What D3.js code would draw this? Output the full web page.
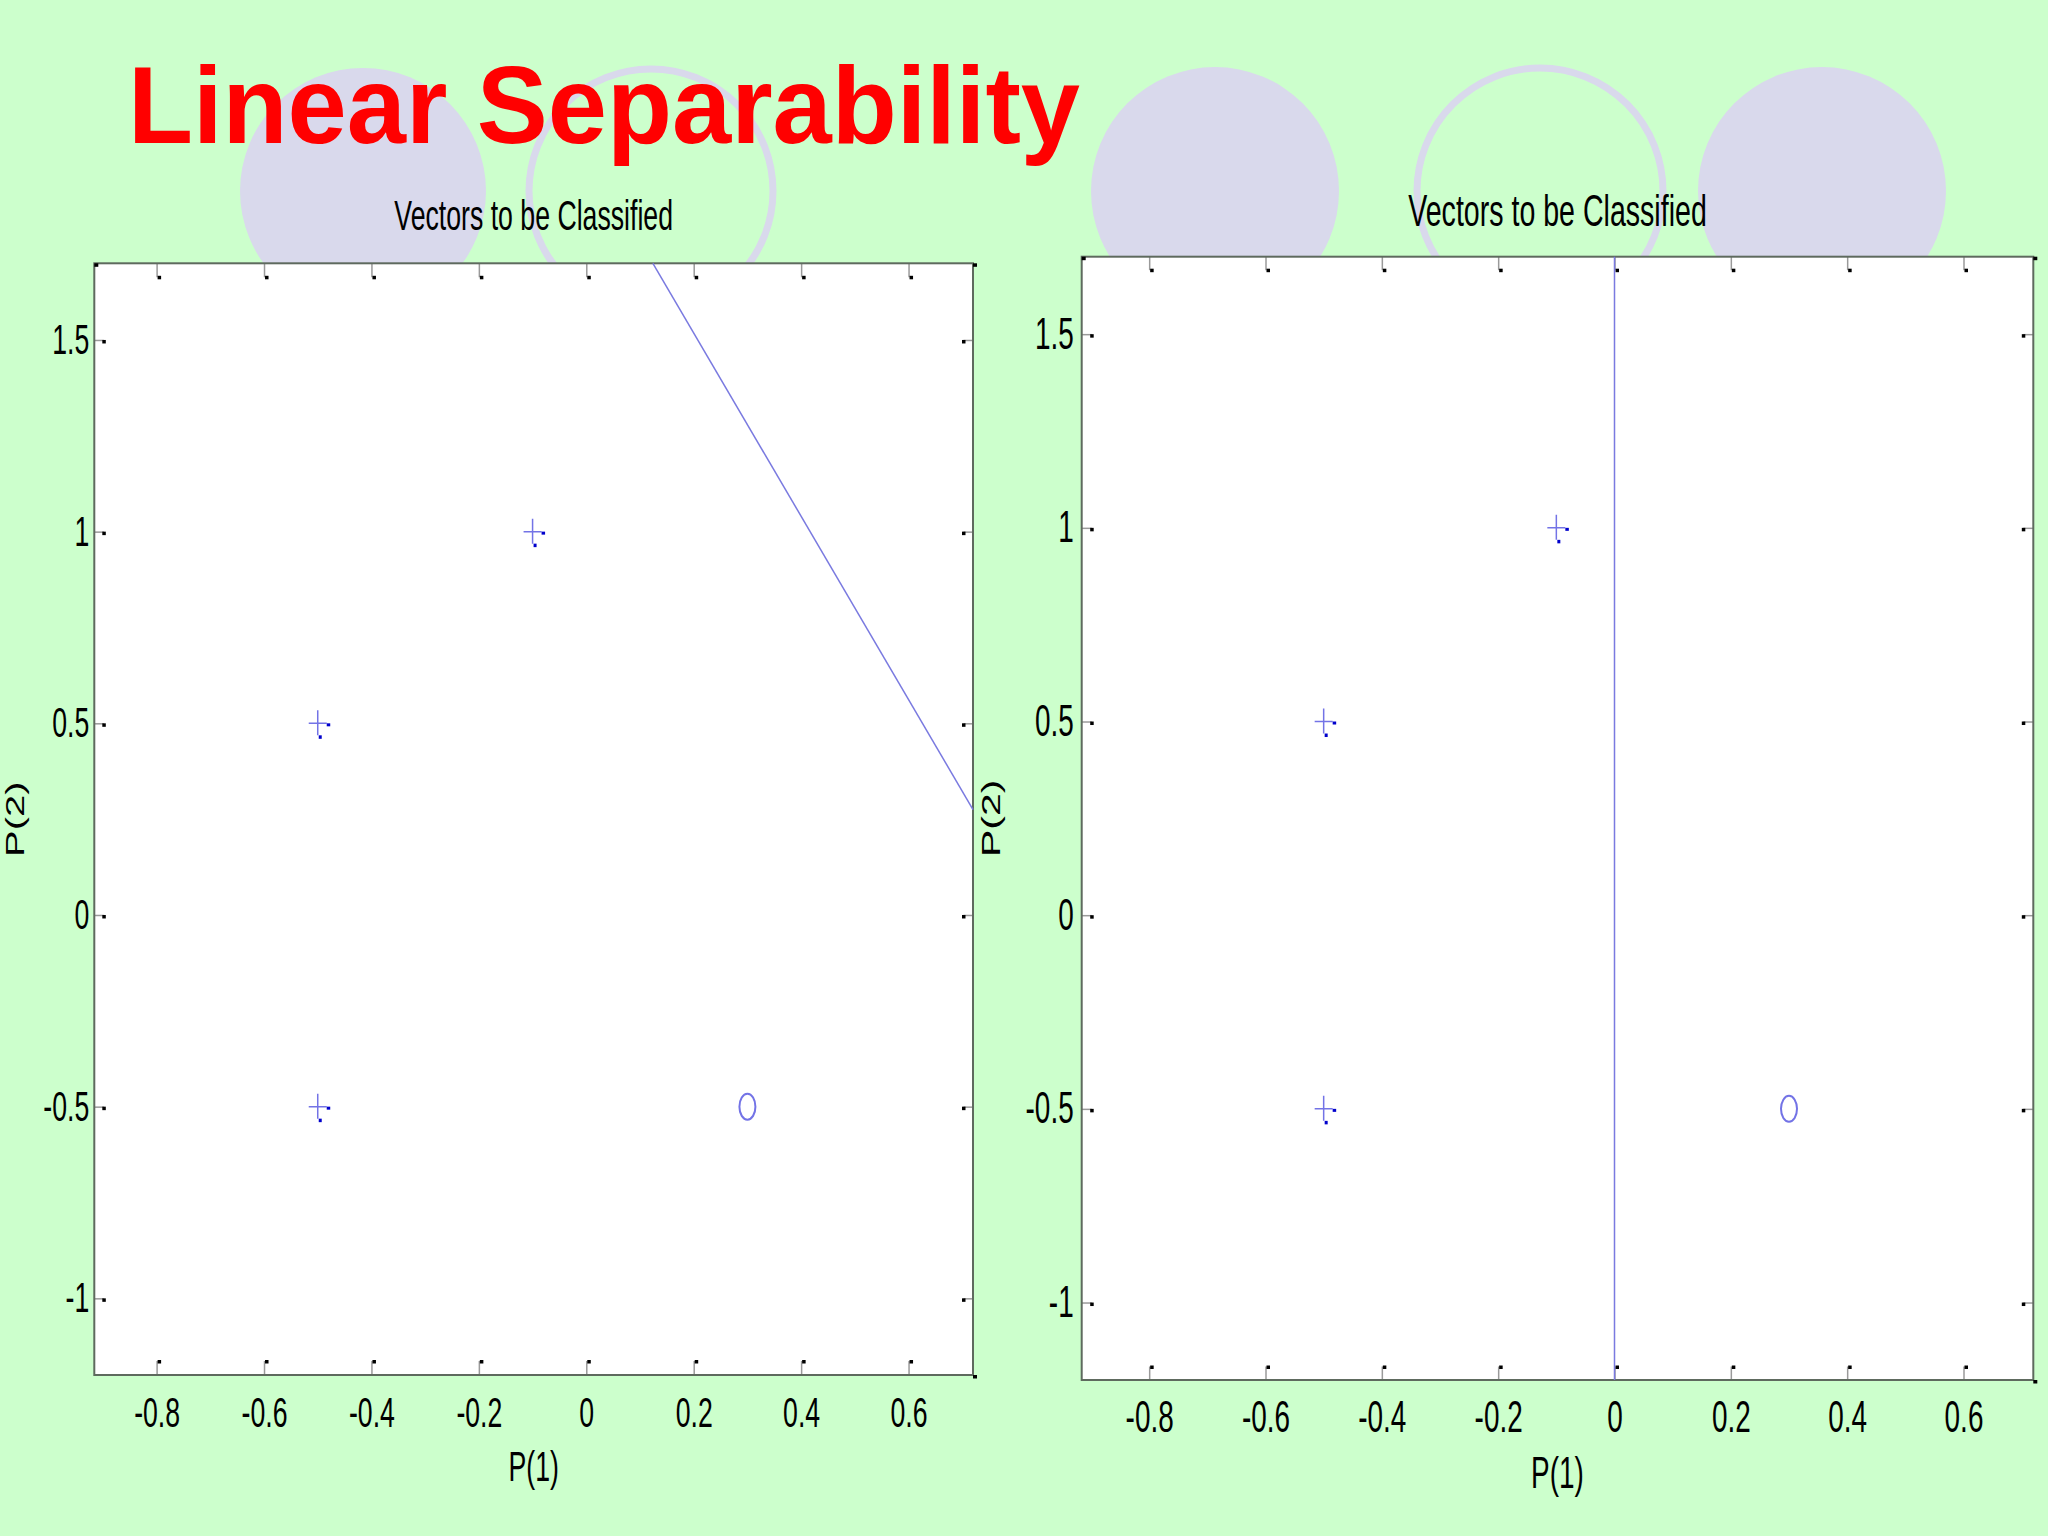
<!DOCTYPE html>
<html>
<head>
<meta charset="utf-8">
<script src="https://cdn.jsdelivr.net/npm/d3@7"></script>
<style>
  html, body { margin: 0; padding: 0; background: #ccffcc; }
  svg { display: block; }
</style>
</head>
<body>
<svg id="chart" width="2048" height="1536"></svg>
<script>
// ---------------- data ----------------
const xTicks = [-0.8, -0.6, -0.4, -0.2, 0, 0.2, 0.4, 0.6];
const xTickLabels = ["-0.8", "-0.6", "-0.4", "-0.2", "0", "0.2", "0.4", "0.6"];
const yTicks = [-1, -0.5, 0, 0.5, 1, 1.5];
const yTickLabels = ["-1", "-0.5", "0", "0.5", "1", "1.5"];
const xDomain = [-0.916, 0.72];
const yDomain = [-1.2, 1.7];

// class "+" vectors
const plusX = [-0.5, -0.5, -0.1];
const plusY = [0.5, -0.5, 1];
// class "o" vectors
const circleX = [0.3];
const circleY = [-0.5];

// decision boundaries
const boundaryLeftX = [0.124, 0.72];
const boundaryLeftY = [1.7, 0.275];
const boundaryRightX = [0, 0];
const boundaryRightY = [-1.2, 1.7];

const mainTitle = "Linear Separability";
const panelTitle = "Vectors to be Classified";
const xLabel = "P(1)";
const yLabel = "P(2)";

// ---------------- drawing ----------------
const svg = d3.select("#chart");
const FONT = "'Liberation Sans', Arial, sans-serif";
const SX = 0.635; // horizontal squash of the original figure

// background decoration
svg.append("rect").attr("width", 2048).attr("height", 1536).attr("fill", "#ccffcc");
const deco = [
  {cx: 363, cy: 191, r: 123, fill: true},
  {cx: 651, cy: 191, r: 122, fill: false},
  {cx: 1215, cy: 191, r: 124, fill: true},
  {cx: 1540, cy: 191, r: 123, fill: false},
  {cx: 1822, cy: 191, r: 124, fill: true}
];
svg.selectAll("circle.deco").data(deco).join("circle")
  .attr("class", "deco")
  .attr("cx", d => d.cx).attr("cy", d => d.cy).attr("r", d => d.r)
  .attr("fill", d => d.fill ? "#d9d9ec" : "none")
  .attr("stroke", d => d.fill ? "none" : "#d9d9ec")
  .attr("stroke-width", 7);

// main title
svg.append("text")
  .attr("x", 128).attr("y", 143)
  .attr("font-family", FONT).attr("font-weight", "bold")
  .attr("font-size", 109).attr("fill", "#ff0000")
  .attr("textLength", 952).attr("lengthAdjust", "spacingAndGlyphs")
  .text(mainTitle);

function drawPanel(cfg, bx, by) {
  const g = svg.append("g");
  const x = d3.scaleLinear().domain(xDomain).range([cfg.x0, cfg.x1]);
  const y = d3.scaleLinear().domain(yDomain).range([cfg.y1, cfg.y0]);

  g.append("rect")
    .attr("x", cfg.x0).attr("y", cfg.y0)
    .attr("width", cfg.x1 - cfg.x0).attr("height", cfg.y1 - cfg.y0)
    .attr("fill", "#ffffff");

  const tv = cfg.tickV, th = cfg.tickH;

  const styleTicks = (sel) => {
    sel.select(".domain").remove();
    sel.selectAll(".tick line").attr("stroke", "#9a9a9a").attr("stroke-width", 1.5);
  };

  // bottom
  const gb = g.append("g").attr("transform", `translate(0,${cfg.y1})`)
    .call(d3.axisBottom(x).tickValues(xTicks).tickFormat((d, i) => xTickLabels[i])
      .tickSizeInner(-tv).tickSizeOuter(0).tickPadding(cfg.xPad));
  styleTicks(gb);
  gb.selectAll(".tick text")
    .attr("font-family", FONT).attr("font-size", cfg.fs).attr("fill", "#000")
    .attr("transform", `scale(${SX},1)`);
  gb.selectAll(".tick").append("rect")
    .attr("x", 0.5).attr("y", -tv - 1).attr("width", 3.5).attr("height", 3.5).attr("fill", "#000");

  // top
  const gt = g.append("g").attr("transform", `translate(0,${cfg.y0})`)
    .call(d3.axisTop(x).tickValues(xTicks).tickFormat("").tickSizeInner(-tv).tickSizeOuter(0));
  styleTicks(gt);
  gt.selectAll(".tick").append("rect")
    .attr("x", 0.5).attr("y", tv - 1.5).attr("width", 3.5).attr("height", 3.5).attr("fill", "#000");

  // left
  const gl = g.append("g").attr("transform", `translate(${cfg.x0},0)`)
    .call(d3.axisLeft(y).tickValues(yTicks).tickFormat((d, i) => yTickLabels[i])
      .tickSizeInner(-th).tickSizeOuter(0).tickPadding(cfg.yPad));
  styleTicks(gl);
  gl.selectAll(".tick text")
    .attr("font-family", FONT).attr("font-size", cfg.fs).attr("fill", "#000")
    .attr("x", -cfg.yPad / SX)
    .attr("transform", `scale(${SX},1)`);
  gl.selectAll(".tick").append("rect")
    .attr("x", th - 1.5).attr("y", -0.5).attr("width", 3.5).attr("height", 3.5).attr("fill", "#000");

  // right
  const gr = g.append("g").attr("transform", `translate(${cfg.x1},0)`)
    .call(d3.axisRight(y).tickValues(yTicks).tickFormat("").tickSizeInner(-th).tickSizeOuter(0));
  styleTicks(gr);
  gr.selectAll(".tick").append("rect")
    .attr("x", -th - 1.5).attr("y", -0.5).attr("width", 3.5).attr("height", 3.5).attr("fill", "#000");

  // frame
  g.append("rect")
    .attr("x", cfg.x0).attr("y", cfg.y0)
    .attr("width", cfg.x1 - cfg.x0).attr("height", cfg.y1 - cfg.y0)
    .attr("fill", "none").attr("stroke", "#5e6a5e").attr("stroke-width", 2);
  // corner squares
  g.append("rect").attr("x", cfg.x0).attr("y", cfg.y0).attr("width", 4).attr("height", 3.5).attr("fill", "#000");
  g.append("rect").attr("x", cfg.x1).attr("y", cfg.y0).attr("width", 4).attr("height", 3.5).attr("fill", "#000");
  g.append("rect").attr("x", cfg.x1).attr("y", cfg.y1).attr("width", 4).attr("height", 3.5).attr("fill", "#000");

  // boundary line
  const lineData = bx.map((v, i) => [v, by[i]]);
  g.append("path")
    .datum(lineData)
    .attr("d", d3.line().x(d => x(d[0])).y(d => y(d[1])))
    .attr("fill", "none").attr("stroke", "#7a7ae0").attr("stroke-width", 1.5);

  // plus markers
  const plusData = plusX.map((v, i) => [v, plusY[i]]);
  const pg = g.selectAll("g.plus").data(plusData).join("g")
    .attr("class", "plus")
    .attr("transform", d => `translate(${x(d[0])},${y(d[1])})`);
  pg.append("path").attr("d", "M-9,0H9M0,-13V12")
    .attr("stroke", "#7373e6").attr("stroke-width", 1.5).attr("fill", "none");
  pg.append("rect").attr("x", 9).attr("y", 0).attr("width", 3.5).attr("height", 3).attr("fill", "#0000cc");
  pg.append("rect").attr("x", 1).attr("y", 12).attr("width", 3).attr("height", 3.5).attr("fill", "#0000cc");

  // circle markers
  const circData = circleX.map((v, i) => [v, circleY[i]]);
  g.selectAll("ellipse.o").data(circData).join("ellipse")
    .attr("class", "o")
    .attr("cx", d => x(d[0])).attr("cy", d => y(d[1]))
    .attr("rx", 8).attr("ry", 13)
    .attr("fill", "none").attr("stroke", "#7373e6").attr("stroke-width", 2);

  // panel title
  g.append("text")
    .attr("transform", `translate(${(cfg.x0 + cfg.x1) / 2},${cfg.titleY}) scale(${SX},1)`)
    .attr("text-anchor", "middle")
    .attr("font-family", FONT).attr("font-size", cfg.titleFs).attr("fill", "#000")
    .text(panelTitle);

  // x label
  g.append("text")
    .attr("transform", `translate(${(cfg.x0 + cfg.x1) / 2},${cfg.xLabelY}) scale(${SX},1)`)
    .attr("text-anchor", "middle")
    .attr("font-family", FONT).attr("font-size", cfg.fs).attr("fill", "#000")
    .text(xLabel);

  // y label
  g.append("text")
    .attr("transform", `translate(${cfg.yLabelX},${(cfg.y0 + cfg.y1) / 2}) scale(${SX},1) rotate(-90)`)
    .attr("text-anchor", "middle")
    .attr("font-family", FONT).attr("font-size", cfg.yLabelFs).attr("fill", "#000")
    .text(yLabel);
}

drawPanel({
  x0: 94.3, x1: 973, y0: 263.3, y1: 1375,
  tickV: 14, tickH: 9.5, fs: 42, xPad: 22, yPad: 5,
  titleY: 230, titleFs: 42, xLabelY: 1481, yLabelX: 24, yLabelFs: 40
}, boundaryLeftX, boundaryLeftY);

drawPanel({
  x0: 1081.7, x1: 2033.3, y0: 256.7, y1: 1380,
  tickV: 13.5, tickH: 10, fs: 44, xPad: 21, yPad: 8,
  titleY: 226, titleFs: 45, xLabelY: 1488, yLabelX: 1000, yLabelFs: 41
}, boundaryRightX, boundaryRightY);
</script>
</body>
</html>
